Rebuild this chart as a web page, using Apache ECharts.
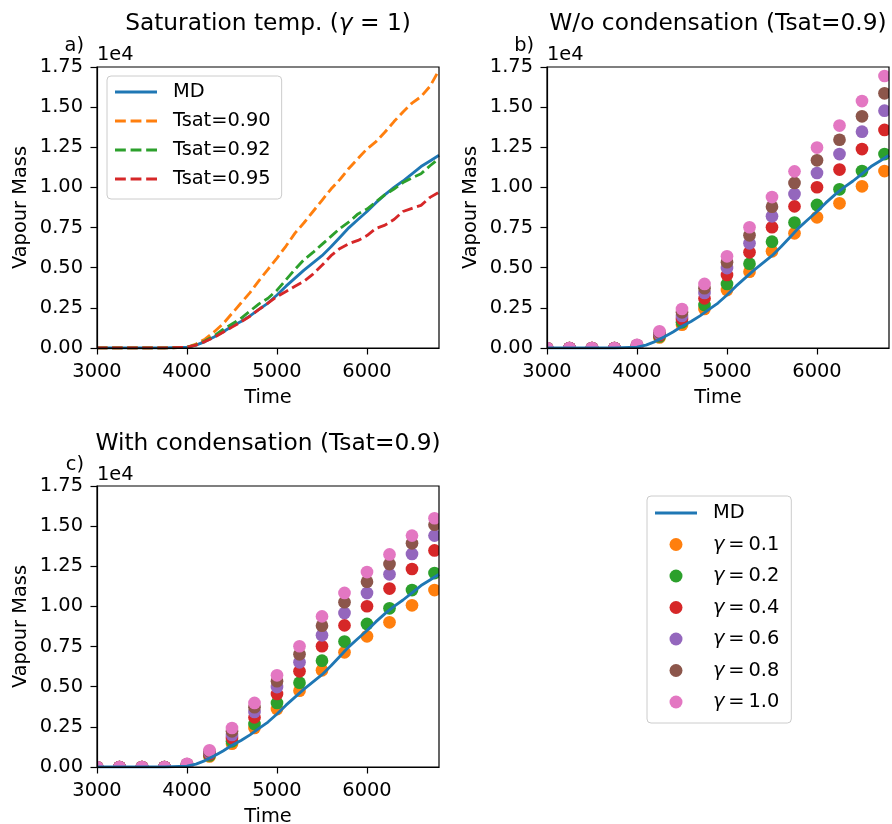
<!DOCTYPE html>
<html><head><meta charset="utf-8">
<script src="https://cdn.jsdelivr.net/npm/echarts@6/dist/echarts.min.js"></script>
<style>html,body{margin:0;padding:0;background:#fff}#c{width:892px;height:824px}</style>
</head><body><div id="c"></div>
<script>
// ---------- data (Vapour Mass in units of 1e4) ----------
const LINE_TIME = [3000,3250,3500,3750,4000,4100,4200,4300,4400,4500,4600,4700,4800,4900,5000,5100,5200,5300,5400,5500,5600,5700,5800,5900,6000,6100,6200,6300,6400,6500,6600,6700,6800];
const MD   = [0,0,0,0,.005,.018,.04,.068,.1,.135,.165,.2,.24,.28,.33,.385,.435,.485,.53,.575,.63,.69,.75,.80,.85,.905,.955,1.0,1.04,1.085,1.13,1.165,1.2];
const T090 = [0,0,0,0,.005,.025,.055,.1,.15,.215,.28,.345,.42,.49,.56,.635,.715,.78,.85,.92,.99,1.05,1.12,1.18,1.24,1.285,1.345,1.41,1.47,1.525,1.565,1.63,1.73];
const T092 = [0,0,0,0,.005,.02,.045,.075,.115,.15,.185,.23,.275,.31,.36,.425,.49,.55,.595,.645,.695,.745,.785,.835,.865,.91,.955,.99,1.03,1.06,1.085,1.135,1.18];
const T095 = [0,0,0,0,.005,.018,.04,.066,.098,.13,.162,.198,.24,.28,.32,.352,.385,.415,.46,.515,.575,.62,.65,.67,.70,.745,.765,.80,.85,.87,.888,.938,.97];

const PT_TIME = [3000,3250,3500,3750,4000,4250,4500,4750,5000,5250,5500,5750,6000,6250,6500,6750];
const GAMMAS = ['0.1','0.2','0.4','0.6','0.8','1.0'];
// panel b: without condensation
const B_G01 = [0,0,0,0,.010,.066,.145,.243,.361,.475,.602,.714,.814,.901,1.007,1.102];
const B_G02 = [0,0,0,0,.012,.072,.160,.268,.399,.525,.662,.781,.891,.988,1.102,1.208];
const B_G04 = [0,0,0,0,.014,.080,.180,.309,.455,.596,.752,.882,1.001,1.111,1.239,1.358];
const B_G06 = [0,0,0,0,.016,.088,.200,.343,.498,.652,.820,.959,1.090,1.208,1.347,1.478];
const B_G08 = [0,0,0,0,.018,.096,.222,.372,.534,.702,.880,1.028,1.169,1.297,1.443,1.586];
const B_G10 = [0,0,0,0,.020,.104,.243,.399,.571,.752,.940,1.100,1.248,1.385,1.538,1.694];
// panel c: with condensation
const C_G01 = [0,0,0,0,.010,.066,.145,.243,.361,.475,.602,.714,.814,.901,1.007,1.102];
const C_G02 = [0,0,0,0,.012,.072,.160,.268,.399,.525,.662,.781,.891,.988,1.102,1.208];
const C_G04 = [0,0,0,0,.014,.080,.180,.309,.455,.596,.752,.882,1.001,1.111,1.233,1.349];
const C_G06 = [0,0,0,0,.016,.088,.200,.343,.498,.652,.820,.959,1.083,1.200,1.327,1.441];
const C_G08 = [0,0,0,0,.018,.096,.222,.372,.534,.702,.880,1.026,1.154,1.264,1.393,1.509];
const C_G10 = [0,0,0,0,.020,.104,.243,.399,.571,.752,.938,1.084,1.214,1.324,1.441,1.549];

const X_TICKS = [3000,4000,5000,6000];
const Y_TICKS = [0,0.25,0.5,0.75,1.0,1.25,1.5,1.75];

// ---------- styling ----------
const FONT = 'DejaVu Sans';
const FS = 19.4, TFS = 23.3;
const C = {blue:'#1f77b4', orange:'#ff7f0e', green:'#2ca02c', red:'#d62728', purple:'#9467bd', brown:'#8c564b', pink:'#e377c2'};
const GCOL = [C.orange, C.green, C.red, C.purple, C.brown, C.pink];
const LW = 2.85, DASH = [10.5, 4.6];
const SOLID_ICON = 'path://M0,0H42V2.85H0Z';
const DASH_ICON = 'path://M0,0H10.5V2.85H0Z M15.1,0H25.6V2.85H15.1Z M30.2,0H40.7V2.85H30.2Z';
const gName = g => 'γ\u2009=\u2009' + g;

const pairs = (xs, ys) => xs.map((x, i) => [x, ys[i]]);

const grids = [
  {left:97, top:67, width:342, height:281},
  {left:547, top:67, width:342, height:281},
  {left:97, top:486, width:342, height:281}
].map(g => Object.assign(g, {show:true, borderColor:'#000', borderWidth:1.2, backgroundColor:'transparent', containLabel:false, z:8}));

const axisCommon = {
  z:9,
  splitLine:{show:false},
  axisLine:{show:true, onZero:false, lineStyle:{color:'#000', width:1.2}},
};
const xAxes = [0,1,2].map(i => Object.assign({
  type:'value', gridIndex:i, min:3000, max:6800, interval:1000,
  axisTick:{show:true, inside:false, length:6.5, lineStyle:{color:'#000', width:1.2}, customValues:X_TICKS},
  axisLabel:{show:true, customValues:X_TICKS, color:'#000', fontSize:FS, fontFamily:FONT, margin:14, formatter:v=>String(v)}
}, axisCommon));
const yAxes = [0,1,2].map(i => Object.assign({
  type:'value', gridIndex:i, min:0, max:1.75, interval:0.25,
  axisTick:{show:true, inside:false, length:6.5, lineStyle:{color:'#000', width:1.2}, customValues:Y_TICKS},
  axisLabel:{show:true, customValues:Y_TICKS, color:'#000', fontSize:FS, fontFamily:FONT, margin:14, formatter:v=>v.toFixed(2)}
}, axisCommon));

function lineSeries(name, ys, color, gi, dashed) {
  return {type:'line', name, xAxisIndex:gi, yAxisIndex:gi, data:pairs(LINE_TIME, ys),
    symbol:'none', showSymbol:false, z:5, animation:false, clip:true,
    lineStyle:{color, width:LW, type: dashed ? DASH : 'solid'}, itemStyle:{color}};
}
// scatter points drawn as clipped circles (matplotlib clips markers at the axes box)
function pointSeries(gi, idx, ys) {
  const color = GCOL[idx];
  return {type:'custom', name:gName(GAMMAS[idx]), coordinateSystem:'cartesian2d', xAxisIndex:gi, yAxisIndex:gi,
    data:pairs(PT_TIME, ys), encode:{x:0, y:1}, clip:true, z:2, animation:false,
    itemStyle:{color},
    renderItem:(params, api) => {
      const p = api.coord([api.value(0), api.value(1)]);
      return {type:'circle', shape:{cx:p[0], cy:p[1], r:6.35}, style:{fill:color}};
    }};
}

const series = [
  lineSeries('MD', MD, C.blue, 0, false),
  lineSeries('Tsat=0.90', T090, C.orange, 0, true),
  lineSeries('Tsat=0.92', T092, C.green, 0, true),
  lineSeries('Tsat=0.95', T095, C.red, 0, true),
];
[B_G01,B_G02,B_G04,B_G06,B_G08,B_G10].forEach((d,i) => series.push(pointSeries(1, i, d)));
series.push(lineSeries('MD', MD, C.blue, 1, false));
[C_G01,C_G02,C_G04,C_G06,C_G08,C_G10].forEach((d,i) => series.push(pointSeries(2, i, d)));
series.push(lineSeries('MD', MD, C.blue, 2, false));

const legendText = {color:'#000', fontSize:FS, fontFamily:FONT, lineHeight:20, padding:[0,0,0,11],
  rich:{g:{fontStyle:'italic', fontSize:FS, fontFamily:FONT, lineHeight:20, color:'#000'}}};
const legendBox = {orient:'vertical', backgroundColor:'rgba(255,255,255,0.8)', borderColor:'#cccccc', borderWidth:1,
  borderRadius:4, itemWidth:42, itemHeight:13, selectedMode:false, itemStyle:{borderWidth:0},
  textStyle:legendText, align:'left', z:20};

const legends = [
  Object.assign({}, legendBox, {left:107, top:76, itemGap:9, padding:[6,11,10,8],
    data:[{name:'MD', icon:SOLID_ICON}, {name:'Tsat=0.90', icon:DASH_ICON},
          {name:'Tsat=0.92', icon:DASH_ICON}, {name:'Tsat=0.95', icon:DASH_ICON}]}),
  Object.assign({}, legendBox, {left:647, top:496, itemGap:11.5, padding:[7,12,11,8],
    data:[{name:'MD', icon:SOLID_ICON}].concat(GAMMAS.map(g => ({name:gName(g), icon:'circle'}))),
    formatter: n => n.startsWith('γ') ? '{g|γ}' + n.slice(1) : n})
];

function txt(text, x, y, opt) {
  return {type:'text', x, y, rotation:(opt && opt.rot) || 0, z:30, silent:true,
    style:Object.assign({text, fill:'#000', fontSize:FS, fontFamily:FONT, align:'center', verticalAlign:'middle',
      rich:{g:{fontStyle:'italic', fontSize:(opt && opt.fs) || FS, fontFamily:FONT, fill:'#000'}}}, opt && opt.style)};
}
const graphics = [
  txt('Saturation temp. ({g|γ} = 1)', 268, 23.6, {fs:TFS, style:{fontSize:TFS}}),
  txt('W/o condensation (Tsat=0.9)', 718, 23.6, {style:{fontSize:TFS}}),
  txt('With condensation (Tsat=0.9)', 268, 443.6, {style:{fontSize:TFS}}),
  txt('a)', 84, 46, {style:{align:'right'}}),
  txt('b)', 534, 46, {style:{align:'right'}}),
  txt('c)', 84, 465, {style:{align:'right'}}),
  txt('1e4', 97, 55, {style:{align:'left'}}),
  txt('1e4', 547, 55, {style:{align:'left'}}),
  txt('1e4', 97, 475, {style:{align:'left'}}),
  txt('Vapour Mass', 21, 207.5, {rot:Math.PI/2}),
  txt('Vapour Mass', 471, 207.5, {rot:Math.PI/2}),
  txt('Vapour Mass', 21, 626.5, {rot:Math.PI/2}),
  txt('Time', 268, 398.3),
  txt('Time', 718, 398.3),
  txt('Time', 268, 817.3),
];

const chart = echarts.init(document.getElementById('c'), null, {renderer:'canvas', width:892, height:824});
chart.setOption({
  animation:false,
  backgroundColor:'#fff',
  grid:grids, xAxis:xAxes, yAxis:yAxes,
  legend:legends,
  series,
  graphic:graphics
});
</script></body></html>
